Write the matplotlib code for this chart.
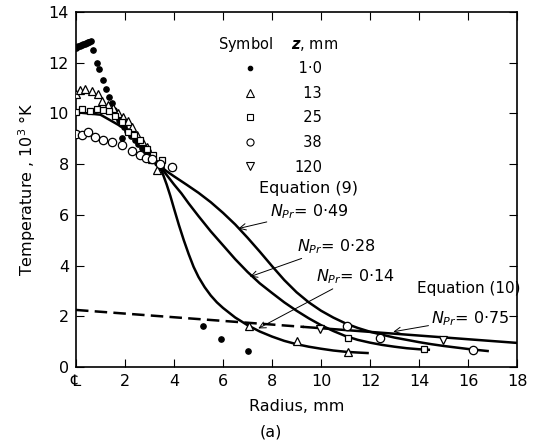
import matplotlib
matplotlib.use("Agg")
import matplotlib.pyplot as plt
from matplotlib.lines import Line2D

plt.rcParams['font.family'] = ['DejaVu Sans']

# ---- data ----
x_z1 = [0.0, 0.05, 0.1, 0.15, 0.2, 0.25, 0.3, 0.35, 0.4, 0.45, 0.5, 0.55, 0.6,
        0.68, 0.84, 0.92, 1.1, 1.22, 1.36, 1.46, 1.55, 1.65, 1.75, 1.85, 1.95,
        2.1, 2.25, 2.4, 2.55, 2.7, 2.85, 3.0, 3.15, 3.3, 3.45, 1.89,
        5.2, 5.9, 7.0]
y_z1 = [12.6, 12.62, 12.64, 12.66, 12.68, 12.7, 12.72, 12.74, 12.76, 12.78, 12.8, 12.83, 12.85,
        12.5, 12.0, 11.75, 11.3, 10.95, 10.65, 10.4, 10.15, 9.95, 9.75, 9.6, 9.45,
        9.3, 9.1, 8.95, 8.8, 8.65, 8.5, 8.35, 8.2, 8.05, 7.9, 9.05,
        1.6, 1.1, 0.65]

x_z13 = [0.0, 0.16, 0.37, 0.64, 0.91, 1.05, 1.3, 1.5, 1.7, 1.9, 2.14, 2.3, 2.48,
         2.7, 2.88, 3.1, 3.29, 7.06, 9.0, 11.1]
y_z13 = [10.75, 10.93, 10.97, 10.88, 10.77, 10.51, 10.35, 10.2, 10.0, 9.85, 9.72, 9.45, 9.13,
         8.9, 8.67, 8.2, 7.76, 1.6, 1.02, 0.6]

x_z25 = [0.0, 0.23, 0.57, 0.84, 1.11, 1.36, 1.59, 1.86, 2.14, 2.38, 2.61, 2.88, 3.16,
         3.5, 3.9, 11.1, 14.2]
y_z25 = [10.05, 10.18, 10.1, 10.18, 10.14, 10.1, 9.88, 9.66, 9.26, 9.13, 8.94, 8.61, 8.35,
         8.15, 7.88, 1.13, 0.69]

x_z38 = [0.0, 0.23, 0.5, 0.78, 1.11, 1.46, 1.86, 2.27, 2.61, 2.86, 3.1, 3.43, 3.9,
         11.05, 12.4, 16.2]
y_z38 = [9.2, 9.13, 9.26, 9.07, 8.94, 8.87, 8.74, 8.52, 8.35, 8.26, 8.2, 8.02, 7.88,
         1.6, 1.16, 0.67]

x_z120 = [9.96, 14.99]
y_z120 = [1.48, 1.06]

# Equation (9) curves
x_pr014 = [0.0, 1.0, 2.0, 3.0, 3.4, 3.55, 3.7, 3.85, 4.0, 4.2, 4.4, 4.6, 4.8, 5.0, 5.25,
           5.5, 5.75, 6.0, 6.5, 7.0, 7.5, 8.0, 8.5, 9.0, 9.5, 10.0, 10.5, 11.0, 11.5, 11.9]
y_pr014 = [10.05, 9.95, 9.4, 8.45, 7.95, 7.6, 7.2, 6.75, 6.25, 5.6, 5.0, 4.45, 3.95, 3.55, 3.15,
           2.82, 2.55, 2.33, 1.95, 1.65, 1.4, 1.2, 1.03, 0.9, 0.8, 0.72, 0.65, 0.6, 0.57, 0.55]

x_pr028 = [3.4, 3.6, 3.8, 4.0, 4.3, 4.6, 5.0, 5.5, 6.0, 6.5, 7.0, 7.5, 8.0, 8.5, 9.0, 9.5,
           10.0, 10.5, 11.0, 11.5, 12.0, 12.5, 13.0, 13.5, 14.0, 14.4]
y_pr028 = [7.95, 7.7, 7.45, 7.2, 6.85, 6.45, 5.95, 5.35, 4.8, 4.25, 3.75, 3.3, 2.92, 2.55, 2.22, 1.92,
           1.65, 1.42, 1.22, 1.07, 0.96, 0.87, 0.8, 0.74, 0.7, 0.68]

x_pr049 = [3.4, 3.7, 4.0, 4.5, 5.0, 5.5, 6.0, 6.5, 7.0, 7.5, 8.0, 8.5, 9.0, 9.5, 10.0, 10.5,
           11.0, 11.5, 12.0, 12.5, 13.0, 13.5, 14.0, 14.5, 15.0, 15.5, 16.0, 16.4, 16.8]
y_pr049 = [7.95, 7.72, 7.52, 7.2, 6.87, 6.5, 6.08, 5.62, 5.1, 4.55, 3.98, 3.43, 2.95, 2.55, 2.22, 1.95,
           1.72, 1.54, 1.39, 1.27, 1.16, 1.07, 0.98, 0.9, 0.83, 0.77, 0.71, 0.67, 0.63]

# Equation (10), N_Pr = 0.75 (dashed part, then solid part)
x_eq10_dash = [0.0, 9.3]
y_eq10_dash = [2.25, 1.58]
x_eq10_solid = [9.3, 18.0]
y_eq10_solid = [1.58, 0.95]

x_ticks = [0, 2, 4, 6, 8, 10, 12, 14, 16, 18]
x_ticklabels = ['\u2104', '2', '4', '6', '8', '10', '12', '14', '16', '18']
y_ticks = [0, 2, 4, 6, 8, 10, 12, 14]

legend_values = ['\u20081\u00b70', '\u200713', '\u200725', '\u200738', '120']

# ---- figure ----
fig = plt.figure(figsize=(5.37, 4.45), dpi=100)
ax = fig.add_axes([0.1415, 0.1753, 0.8213, 0.7977])

lw_curve = 1.8
ax.plot(x_pr014, y_pr014, color='black', lw=lw_curve, zorder=2)
ax.plot(x_pr028, y_pr028, color='black', lw=lw_curve, zorder=2)
ax.plot(x_pr049, y_pr049, color='black', lw=lw_curve, zorder=2)
ax.plot(x_eq10_dash, y_eq10_dash, color='black', lw=1.8, dashes=(5, 2.5), zorder=2)
ax.plot(x_eq10_solid, y_eq10_solid, color='black', lw=1.8, zorder=2)

mk = dict(linestyle='none', zorder=3)
h1, = ax.plot(x_z1, y_z1, marker='o', ms=3.8, mfc='black', mec='black', **mk)
h2, = ax.plot(x_z13, y_z13, marker='^', ms=6, mfc='white', mec='black', mew=0.9, **mk)
h3, = ax.plot(x_z25, y_z25, marker='s', ms=5, mfc='white', mec='black', mew=0.9, **mk)
h4, = ax.plot(x_z38, y_z38, marker='o', ms=6, mfc='white', mec='black', mew=0.9, **mk)
h5, = ax.plot(x_z120, y_z120, marker='v', ms=6, mfc='white', mec='black', mew=0.9, **mk)

ax.set_xlim(0, 18)
ax.set_ylim(0, 14)
ax.set_xticks(x_ticks)
ax.set_xticklabels(x_ticklabels)
ax.set_yticks(y_ticks)
ax.tick_params(direction='in', top=True, right=True, length=6, width=0.8,
               labelsize=11.5, pad=5)
for s in ax.spines.values():
    s.set_linewidth(1.2)

ax.set_xlabel('Radius, mm', fontsize=11.5, labelpad=7)
ax.set_ylabel('Temperature , 10$^3$ \u00b0K', fontsize=11.5, labelpad=8)
fig.text(0.505, 0.03, '(a)', ha='center', va='center', fontsize=11.5)

# legend table
ax.text(5.8, 12.72, 'Symbol    $\\boldsymbol{z}$, mm', ha='left', va='center', fontsize=10.5)
leg_handles = [Line2D([], [], linestyle='none', marker=h.get_marker(), ms=h.get_markersize() * 0.85,
                      mfc=h.get_mfc(), mec='black', mew=0.8) for h in (h1, h2, h3, h4, h5)]
leg = ax.legend(leg_handles, legend_values, frameon=False,
                loc='upper left', bbox_to_anchor=(0.379, 0.862), fontsize=10.5,
                handlelength=1.0, handletextpad=2.5, borderpad=0,
                labelspacing=0.66, borderaxespad=0)

# annotations
tfs = 11.5
ax.text(9.48, 7.03, 'Equation (9)', ha='center', va='center', fontsize=tfs)
ax.text(13.9, 3.1, 'Equation (10)', ha='left', va='center', fontsize=11)
arrow = dict(arrowstyle='->', color='black', lw=0.7, shrinkA=0, shrinkB=0)
ax.annotate('$N_{Pr}$= 0\u00b749', xy=(6.63, 5.46), xytext=(7.9, 6.11),
            ha='left', va='center', fontsize=tfs, arrowprops=arrow)
ax.annotate('$N_{Pr}$= 0\u00b728', xy=(7.1, 3.56), xytext=(9.0, 4.76),
            ha='left', va='center', fontsize=tfs, arrowprops=arrow)
ax.annotate('$N_{Pr}$= 0\u00b714', xy=(7.44, 1.52), xytext=(9.8, 3.56),
            ha='left', va='center', fontsize=tfs, arrowprops=arrow)
ax.annotate('$N_{Pr}$= 0\u00b775', xy=(12.95, 1.39), xytext=(14.5, 1.92),
            ha='left', va='center', fontsize=tfs, arrowprops=arrow)

fig.savefig('out.png', dpi=100)
